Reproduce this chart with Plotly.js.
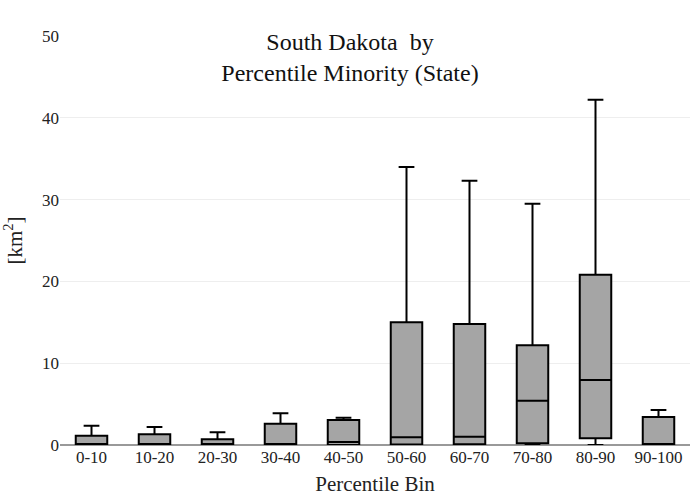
<!DOCTYPE html>
<html>
<head>
<meta charset="utf-8">
<script src="https://cdn.plot.ly/plotly-3.0.1.min.js"></script>
<style>html,body{margin:0;padding:0;}#chart{width:700px;height:500px;}</style>
</head>
<body>
<div id="chart"></div>
<script>
const categories = ["0-10","10-20","20-30","30-40","40-50","50-60","60-70","70-80","80-90","90-100"];
const lowerFence = [0, 0, 0, 0, 0, 0, 0, 0, 0, 0];
const q1Values = [0, 0, 0, 0, 0, 0.05, 0.1, 0.2, 0.82, 0];
const medianValues = [0, 0, 0, 0, 0.37, 0.94, 1.0, 5.4, 7.95, 0];
const q3Values = [1.14, 1.3, 0.7, 2.6, 3.06, 15.0, 14.8, 12.2, 20.8, 3.43];
const upperFence = [2.36, 2.2, 1.55, 3.88, 3.34, 34.0, 32.3, 29.5, 42.2, 4.28];
const yTicks = [0, 10, 20, 30, 40, 50];

const serif = "'Liberation Serif', 'DejaVu Serif', serif";

const trace = {
  type: "box",
  x: categories,
  lowerfence: lowerFence,
  q1: q1Values,
  median: medianValues,
  q3: q3Values,
  upperfence: upperFence,
  fillcolor: "#a5a5a5",
  line: {color: "#000000", width: 2},
  whiskerwidth: 0.5,
  boxpoints: false,
  showlegend: false
};

const layout = {
  width: 700,
  height: 500,
  margin: {l: 60, r: 10, t: 36, b: 55},
  paper_bgcolor: "#ffffff",
  plot_bgcolor: "#ffffff",
  font: {family: serif, color: "#222"},
  title: {
    text: "South Dakota  by<br>Percentile Minority (State)",
    font: {size: 24, family: serif, color: "#111"},
    x: 0.5, xanchor: "center",
    y: 0.90, yanchor: "top"
  },
  boxgap: 0.5,
  boxgroupgap: 0,
  xaxis: {
    type: "category",
    title: {text: "Percentile Bin", font: {size: 21, family: serif}, standoff: 10},
    tickfont: {size: 17, family: serif},
    showgrid: false,
    showline: false,
    ticks: ""
  },
  yaxis: {
    title: {text: "[km<sup>2</sup>]", font: {size: 21, family: serif}},
    range: [0, 50],
    tickvals: yTicks,
    ticktext: yTicks.map(String),
    tickfont: {size: 17, family: serif},
    showgrid: true,
    gridcolor: "#eeeeee",
    zeroline: true,
    zerolinecolor: "#999999",
    zerolinewidth: 2,
    ticks: ""
  }
};

Plotly.newPlot("chart", [trace], layout, {displayModeBar: false, staticPlot: true});
</script>
</body>
</html>
